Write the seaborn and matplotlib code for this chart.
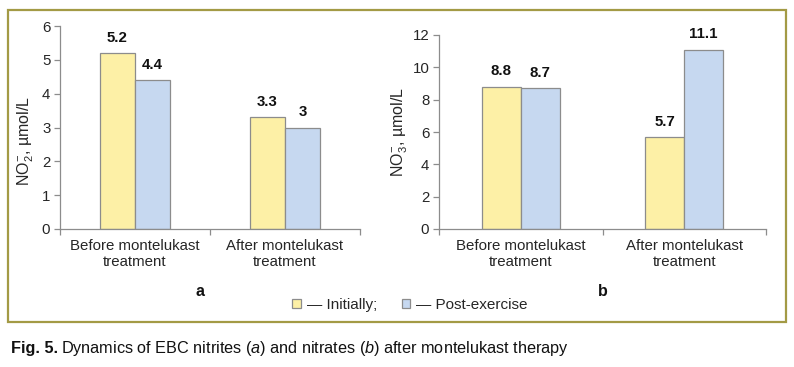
import matplotlib
matplotlib.use("Agg")
import matplotlib.pyplot as plt
import seaborn as sns
import pandas as pd
from matplotlib.patches import Rectangle

sns.set_theme(style="white")
plt.rcParams['font.family'] = ['Liberation Sans', 'DejaVu Sans']
plt.rcParams['mathtext.fontset'] = 'custom'
plt.rcParams['mathtext.rm'] = 'Liberation Sans'
plt.rcParams['mathtext.it'] = 'Liberation Sans:italic'

categories = ["Before montelukast\ntreatment", "After montelukast\ntreatment"]
series = ["— Initially;", "— Post-exercise"]
nitrites_initial = [5.2, 3.3]
nitrites_post = [4.4, 3.0]
nitrates_initial = [8.8, 5.7]
nitrates_post = [8.7, 11.1]
label_a = ["5.2", "3.3", "4.4", "3"]
label_b = ["8.8", "5.7", "8.7", "11.1"]

colors = ["#FDF0A6", "#C6D8F0"]
edge = "#8C8C8C"
txt = "#262626"
W, H = 794, 367

def make_df(init, post):
    return pd.DataFrame({
        "cat": categories * 2,
        "series": [series[0]] * 2 + [series[1]] * 2,
        "val": list(init) + list(post),
    })

fig = plt.figure(figsize=(W / 100, H / 100), dpi=100)

def px_axes(x0, x1, ybot, ytop):
    return fig.add_axes([x0 / W, 1 - ybot / H, (x1 - x0) / W, (ybot - ytop) / H])

ax_a = px_axes(60, 360, 229, 26)
ax_b = px_axes(439, 766, 229, 35)

def style(ax, df, width, ymax, step, labels, ylabel, lab_xy):
    sns.barplot(data=df, x="cat", y="val", hue="series", palette=colors,
                width=width, edgecolor=edge, linewidth=0.9, ax=ax, legend=False,
                saturation=1)
    ax.set_ylim(0, ymax)
    ax.set_xlim(-0.5, 1.5)
    ax.set_yticks(range(0, ymax + 1, step))
    for s in ["top", "right"]:
        ax.spines[s].set_visible(False)
    for s in ["left", "bottom"]:
        ax.spines[s].set_color(edge)
        ax.spines[s].set_linewidth(0.9)
    ax.tick_params(axis="y", length=4, width=0.9, color=edge, labelsize=10.8,
                   pad=3, left=True, labelcolor=txt)
    ax.tick_params(axis="x", length=0, labelsize=10.8, pad=7, labelcolor=txt)
    ax.set_xticks([-0.5, 0.5, 1.5], minor=True)
    ax.tick_params(axis="x", which="minor", length=4, width=0.9, color=edge, bottom=True)
    ax.set_xlabel("")
    ax.set_ylabel(ylabel, fontsize=11.5, color=txt)
    ax.yaxis.set_label_coords(*lab_xy)
    for cont, labs in zip(ax.containers, [labels[:2], labels[2:]]):
        ax.bar_label(cont, labels=labs, padding=6, fontsize=10.8, fontweight="bold",
                     color="#111111")
    ax.set_facecolor("none")

style(ax_a, make_df(nitrites_initial, nitrites_post), 0.467, 6, 1, label_a,
      r"NO$_2^{-}$, µmol/L", (-0.08, 0.433))
style(ax_b, make_df(nitrates_initial, nitrates_post), 0.477, 12, 2, label_b,
      r"NO$_3^{-}$, µmol/L", (-0.089, 0.5))

# panel letters
fig.text(200 / W, 1 - 292 / H, "a", ha="center", va="center", fontsize=11.5,
         fontweight="bold", color="#111111")
fig.text(603 / W, 1 - 292 / H, "b", ha="center", va="center", fontsize=11.5,
         fontweight="bold", color="#111111")

# legend
handles = [ax_a.containers[0].patches[0], ax_a.containers[1].patches[0]]
leg = fig.legend(handles, series, ncol=2, frameon=False, loc="center",
                 bbox_to_anchor=(410 / W, 1 - 305 / H), fontsize=11,
                 handlelength=0.55, handleheight=0.55, handletextpad=0.4,
                 columnspacing=1.6)
for t in leg.get_texts():
    t.set_color(txt)

# frame
fig.patches.append(Rectangle((8 / W, 1 - 322 / H), 778 / W, 312 / H,
                             transform=fig.transFigure, fill=False,
                             edgecolor="#A39A45", linewidth=1.6))

# caption
t1 = fig.text(11 / W, 1 - 348 / H, "Fig. 5.", ha="left", va="center", fontsize=11.7,
              fontweight="bold", color="#111111")
fig.canvas.draw()
bb = t1.get_window_extent()
fig.text((bb.x1 + 3) / W, 1 - 348 / H,
         "Dynamics of EBC nitrites ($\\mathit{a}$) and nitrates ($\\mathit{b}$) after montelukast therapy",
         ha="left", va="center", fontsize=11.7, color="#111111")

fig.savefig("out.png", dpi=100)
